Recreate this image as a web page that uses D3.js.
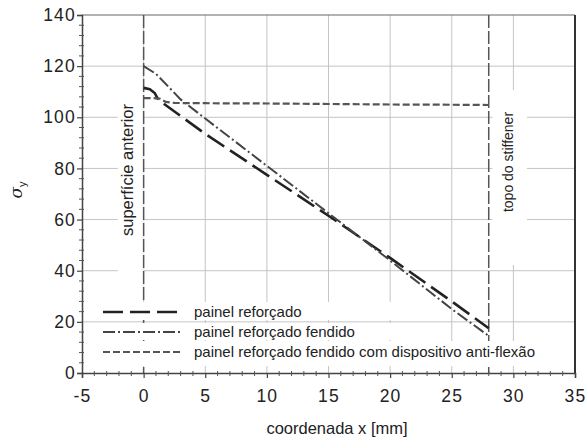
<!DOCTYPE html>
<html>
<head>
<meta charset="utf-8">
<script src="https://cdn.jsdelivr.net/npm/d3@7"></script>
<style>
  body { margin: 0; background: #fff; }
  text { font-family: "Liberation Sans", Arial, sans-serif; fill: #222; }
</style>
</head>
<body>
<div id="chart"></div>
<script>
// Data
var xTicks = [-5, 0, 5, 10, 15, 20, 25, 30, 35];
var yTicks = [0, 20, 40, 60, 80, 100, 120, 140];

var x1 = [0, 0.5, 0.9, 1.2, 2, 3, 5, 10, 15, 20, 25, 28];
var y1 = [111.5, 111, 109.5, 106.8, 104, 100.5, 93.5, 77.5, 61.5, 45, 28, 17.5];

var x2 = [0, 1, 2, 3, 5, 10, 15, 20, 25, 28];
var y2 = [120, 117, 112, 107, 99.5, 81, 62.5, 44, 25, 14.5];

var x3 = [0, 0.7, 1.3, 1.8, 2.5, 5, 10, 15, 20, 25, 28];
var y3 = [107.5, 107.5, 107.3, 106, 105.6, 105.5, 105.4, 105.2, 105, 104.9, 104.8];

var seriesNames = ["painel reforçado", "painel reforçado fendido",
  "painel reforçado fendido com dispositivo anti-flexão"];
var markerX = [0, 28];
var markerNames = ["superfície anterior", "topo do stiffener"];

// SVG area
var svgWidth = 585;
var svgHeight = 439;
var margin = { top: 15, right: 10, bottom: 66, left: 82 };
var chartWidth = svgWidth - margin.left - margin.right;
var chartHeight = svgHeight - margin.top - margin.bottom;

var svg = d3.select("#chart")
  .append("svg")
  .attr("width", svgWidth)
  .attr("height", svgHeight);

var chartGroup = svg.append("g")
  .attr("transform", `translate(${margin.left}, ${margin.top})`);

var xScale = d3.scaleLinear().domain([-5, 35]).range([0, chartWidth]);
var yScale = d3.scaleLinear().domain([0, 140]).range([chartHeight, 0]);

// grid
chartGroup.selectAll("line.vgrid")
  .data(xTicks.slice(1, -1))
  .enter()
  .append("line")
  .attr("x1", d => xScale(d)).attr("x2", d => xScale(d))
  .attr("y1", 0).attr("y2", chartHeight)
  .attr("stroke", "#c4c4c4").attr("stroke-width", 1);

chartGroup.selectAll("line.hgrid")
  .data(yTicks.slice(1, -1))
  .enter()
  .append("line")
  .attr("x1", 0).attr("x2", chartWidth)
  .attr("y1", d => yScale(d)).attr("y2", d => yScale(d))
  .attr("stroke", "#c4c4c4").attr("stroke-width", 1);

// white boxes behind the marker labels (they hide the grid)
function addBoxes(list) {
  chartGroup.selectAll(null)
    .data(list)
    .enter()
    .append("rect")
    .attr("x", d => xScale(d[0]))
    .attr("width", d => xScale(d[1]) - xScale(d[0]))
    .attr("y", d => d[2] - margin.top)
    .attr("height", d => d[3] - d[2])
    .attr("fill", "#fff");
}
addBoxes([
  [-2.1, 0, 82, 290],
  [28.3, 31.1, 90, 265]
]);

// frame
chartGroup.append("line")
  .attr("x1", 0).attr("x2", chartWidth).attr("y1", 0).attr("y2", 0)
  .attr("stroke", "#666").attr("stroke-width", 1.2);
chartGroup.append("line")
  .attr("x1", chartWidth).attr("x2", chartWidth).attr("y1", 0).attr("y2", chartHeight)
  .attr("stroke", "#333").attr("stroke-width", 2);

// markers for x=0 and x=28
chartGroup.selectAll("line.marker")
  .data(markerX)
  .enter()
  .append("line")
  .attr("x1", d => xScale(d)).attr("x2", d => xScale(d))
  .attr("y1", 0).attr("y2", chartHeight)
  .attr("stroke", "#555").attr("stroke-width", 1.5)
  .attr("stroke-dasharray", "13,3");

// legend text boxes sit on top of the grid and markers
addBoxes([
  [-0.8, 22.2, 302, 320],
  [-0.8, 22.7, 323, 340],
  [-0.8, 32.5, 341, 366]
]);

// axes
var bottomAxis = d3.axisBottom(xScale).tickValues(xTicks)
  .tickFormat(d => String(d)).tickSize(5).tickPadding(12);
var leftAxis = d3.axisLeft(yScale).tickValues(yTicks)
  .tickFormat(d => String(d)).tickSize(5).tickPadding(1);

var xAxisG = chartGroup.append("g")
  .attr("transform", `translate(0, ${chartHeight})`)
  .call(bottomAxis);
var yAxisG = chartGroup.append("g")
  .call(leftAxis);

[xAxisG, yAxisG].forEach(function(g) {
  g.select(".domain").attr("stroke", "#444").attr("stroke-width", 1.5);
  g.selectAll(".tick line").attr("stroke", "#444").attr("stroke-width", 1.2);
  g.selectAll(".tick text")
    .style("font-family", "'Liberation Sans', Arial, sans-serif")
    .style("font-size", "17.5px")
    .style("letter-spacing", "1.2px")
    .attr("fill", "#222");
});

// minor ticks
chartGroup.selectAll("line.xminor")
  .data(d3.range(-5, 35.5, 1).filter(d => d % 5 !== 0))
  .enter()
  .append("line")
  .attr("x1", d => xScale(d)).attr("x2", d => xScale(d))
  .attr("y1", chartHeight - 2).attr("y2", chartHeight + 3)
  .attr("stroke", "#555").attr("stroke-width", 1);

chartGroup.selectAll("line.yminor")
  .data(d3.range(0, 140.5, 4).filter(d => d % 20 !== 0))
  .enter()
  .append("line")
  .attr("x1", -3).attr("x2", 2)
  .attr("y1", d => yScale(d)).attr("y2", d => yScale(d))
  .attr("stroke", "#555").attr("stroke-width", 1);

// series
var styles = [
  { dash: "20,7", width: 2.6, color: "#222" },
  { dash: "12,3,2,3", width: 2, color: "#444" },
  { dash: "7,3", width: 2.2, color: "#555" }
];
var seriesData = [
  x1.map((d, i) => [d, y1[i]]),
  x2.map((d, i) => [d, y2[i]]),
  x3.map((d, i) => [d, y3[i]])
];
var line = d3.line()
  .x(d => xScale(d[0]))
  .y(d => yScale(d[1]));

chartGroup.selectAll("path.series")
  .data(seriesData)
  .enter()
  .append("path")
  .attr("d", line)
  .attr("fill", "none")
  .attr("stroke", (d, i) => styles[i].color)
  .attr("stroke-width", (d, i) => styles[i].width)
  .attr("stroke-dasharray", (d, i) => styles[i].dash);

// marker labels
chartGroup.append("text")
  .attr("transform", `translate(${xScale(-1.3)}, ${170 - margin.top}) rotate(-90)`)
  .attr("text-anchor", "middle")
  .attr("dy", "0.35em")
  .style("font-size", "16.5px")
  .text(markerNames[0]);

chartGroup.append("text")
  .attr("transform", `translate(${xScale(29.6)}, ${162 - margin.top}) rotate(-90)`)
  .attr("text-anchor", "middle")
  .attr("dy", "0.35em")
  .style("font-size", "14px")
  .text(markerNames[1]);

// legend
var legendRows = [312, 332, 352];
var legend = chartGroup.selectAll("g.legend")
  .data(seriesNames)
  .enter()
  .append("g")
  .attr("transform", (d, i) => `translate(0, ${legendRows[i] - margin.top})`);

legend.append("line")
  .attr("x1", 103 - margin.left).attr("x2", 183 - margin.left)
  .attr("y1", 0).attr("y2", 0)
  .attr("stroke", (d, i) => styles[i].color)
  .attr("stroke-width", (d, i) => styles[i].width)
  .attr("stroke-dasharray", (d, i) => styles[i].dash);

legend.append("text")
  .attr("x", 194 - margin.left)
  .attr("dy", "0.35em")
  .style("font-size", "15px")
  .text(d => d);

// axis labels
chartGroup.append("text")
  .attr("x", 337 - margin.left)
  .attr("y", 434 - margin.top)
  .attr("text-anchor", "middle")
  .style("font-size", "16.5px")
  .text("coordenada x [mm]");

var yLabel = svg.append("text")
  .attr("transform", "translate(22, 190) rotate(-90)")
  .attr("text-anchor", "middle")
  .style("font-size", "17px");
yLabel.append("tspan").style("font-family", "'DejaVu Serif', serif").style("font-style", "italic").text("σ");
yLabel.append("tspan").attr("dy", 4).style("font-size", "11px").text("y");
</script>
</body>
</html>
